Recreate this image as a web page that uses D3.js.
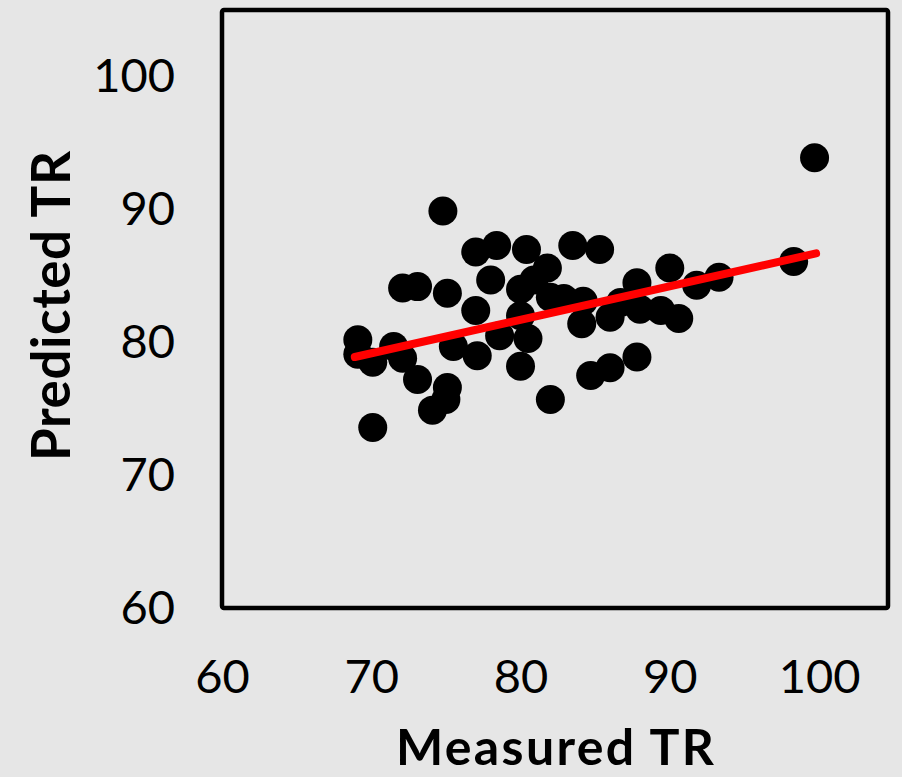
<!DOCTYPE html>
<html>
<head>
<meta charset="utf-8">
<script src="https://cdn.jsdelivr.net/npm/d3@7"></script>
<style>
  html, body { margin: 0; padding: 0; background: #e6e6e6; }
  svg { display: block; }
  .tick text { font-family: Lato, "Open Sans", sans-serif; fill: #000; }
</style>
</head>
<body>
<div id="chart"></div>
<script>
// measured vs predicted TR
const measured = [99.7, 74.8, 77.0, 78.4, 80.4, 83.5, 85.3, 81.8, 78.0, 72.1,
  73.1, 75.1, 77.0, 80.0, 80.9, 82.0, 82.9, 84.2, 80.0, 84.1,
  86.0, 86.7, 87.8, 90.0, 91.8, 93.3, 98.3, 88.0, 89.4, 90.6,
  69.1, 69.1, 70.1, 71.5, 72.1, 75.5, 77.1, 78.6, 80.5, 73.1,
  75.1, 75.0, 74.1, 70.1, 80.0, 82.0, 84.7, 86.0, 87.8];
const predicted = [93.9, 89.9, 86.8, 87.3, 87.0, 87.3, 87.0, 85.6, 84.7, 84.1,
  84.2, 83.7, 82.4, 84.0, 84.7, 83.4, 83.3, 83.1, 82.0, 81.4,
  81.9, 83.0, 84.5, 85.6, 84.3, 84.9, 86.1, 82.5, 82.4, 81.8,
  80.2, 79.1, 78.5, 79.7, 78.8, 79.7, 79.0, 80.5, 80.3, 77.2,
  76.6, 75.7, 74.9, 73.6, 78.2, 75.7, 77.5, 78.1, 78.9];

// trendline end points
const trendX = [68.9, 99.8];
const trendY = [78.9, 86.7];

const xTicks = [60, 70, 80, 90, 100];
const yTicks = [60, 70, 80, 90, 100];

const width = 902, height = 777;
const margin = {top: 10, right: 14, bottom: 169, left: 222};
const w = width - margin.left - margin.right;
const h = height - margin.top - margin.bottom;

const svg = d3.select("#chart").append("svg")
    .attr("width", width)
    .attr("height", height);

const g = svg.append("g")
    .attr("transform", `translate(${margin.left},${margin.top})`);

const x = d3.scaleLinear().domain([60, 104.62]).range([0, w]);
const y = d3.scaleLinear().domain([60, 105.03]).range([h, 0]);

// axes without tick marks, just the labels
const xAxis = g.append("g")
    .attr("transform", `translate(0,${h})`)
    .call(d3.axisBottom(x).tickValues(xTicks).tickSize(0).tickPadding(52));
xAxis.select(".domain").remove();
xAxis.selectAll("text").attr("font-size", 47);

const yAxis = g.append("g")
    .call(d3.axisLeft(y).tickValues(yTicks).tickSize(0).tickPadding(47));
yAxis.select(".domain").remove();
yAxis.selectAll("text").attr("font-size", 47);

// points
g.selectAll("circle")
    .data(measured.map((m, i) => [m, predicted[i]]))
    .enter().append("circle")
    .attr("cx", d => x(d[0]))
    .attr("cy", d => y(d[1]))
    .attr("r", 14.5)
    .style("fill", "#000");

// trendline
g.append("line")
    .attr("x1", x(trendX[0]))
    .attr("y1", y(trendY[0]))
    .attr("x2", x(trendX[1]))
    .attr("y2", y(trendY[1]))
    .style("stroke", "#ff0000")
    .style("stroke-width", 8)
    .style("stroke-linecap", "round");

// plot frame
g.append("rect")
    .attr("x", 0)
    .attr("y", 0)
    .attr("width", w)
    .attr("height", h)
    .attr("rx", 2)
    .style("fill", "none")
    .style("stroke", "#000")
    .style("stroke-width", 4.5);

// axis titles
svg.append("text")
    .attr("x", 555)
    .attr("y", 765)
    .attr("text-anchor", "middle")
    .style("font-family", "Lato, 'Open Sans', sans-serif")
    .style("font-weight", "bold")
    .style("font-size", "50px")
    .attr("textLength", 318)
    .text("Measured TR");

svg.append("text")
    .attr("transform", "translate(70,306) rotate(-90)")
    .attr("text-anchor", "middle")
    .style("font-family", "Lato, 'Open Sans', sans-serif")
    .style("font-weight", "bold")
    .style("font-size", "53px")
    .attr("textLength", 310)
    .text("Predicted TR");
</script>
</body>
</html>
